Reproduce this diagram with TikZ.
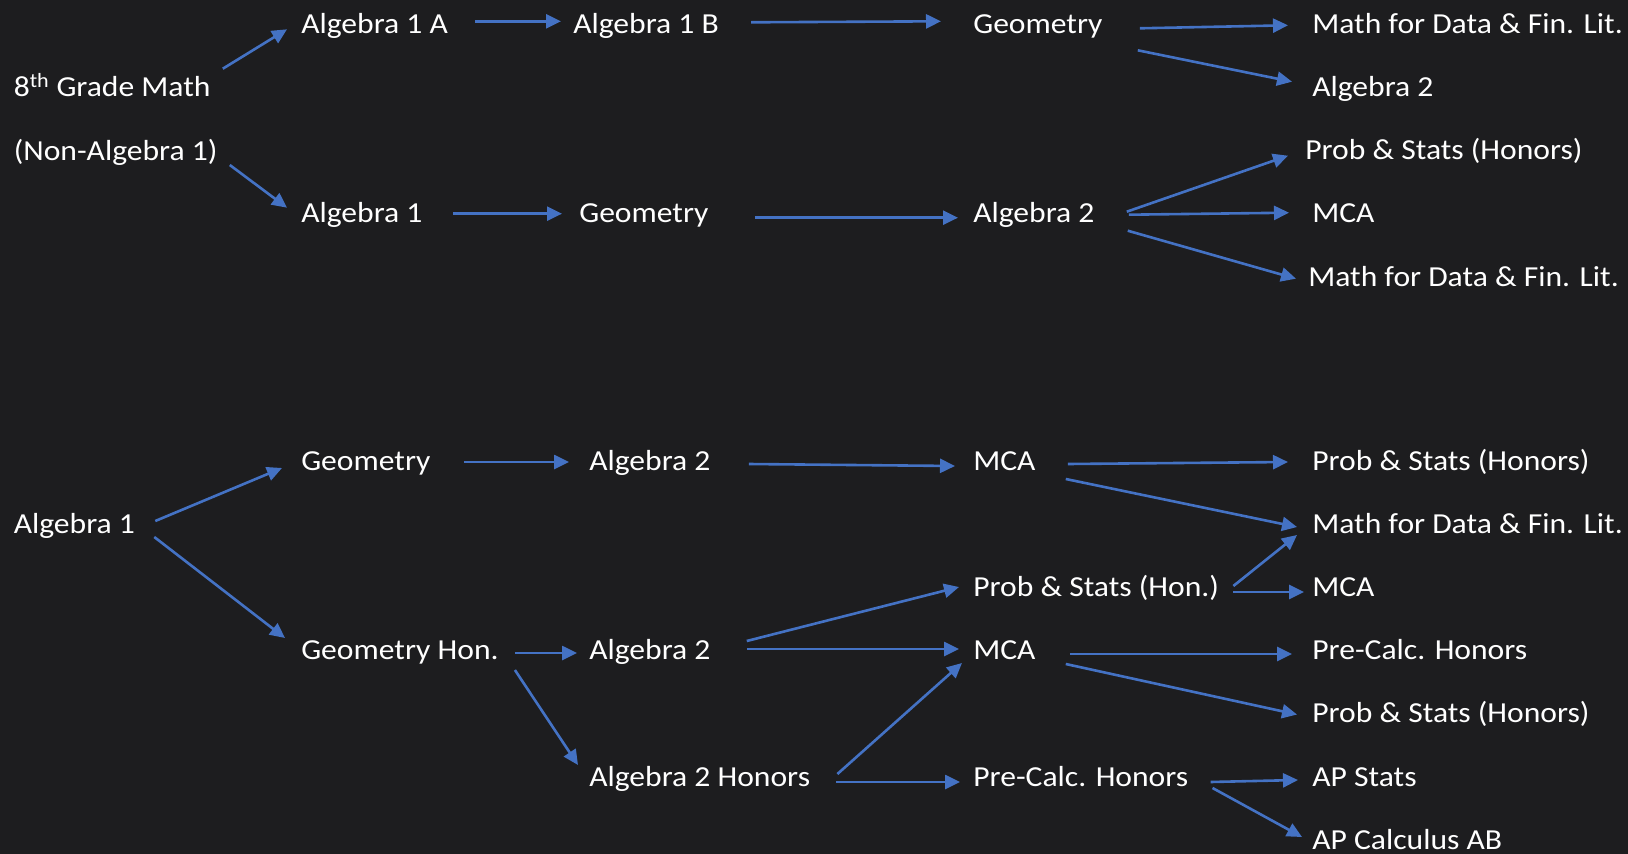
\documentclass[tikz,border=0pt]{standalone}
\usepackage{fontspec}
\setmainfont{Carlito}[FakeStretch=1.09]
\usetikzlibrary{arrows.meta}
\definecolor{board}{HTML}{1D1D1F}
\definecolor{arrowblue}{HTML}{4472C4}

\begin{document}
\begin{tikzpicture}[x=1pt, y=-1pt, ->, >={Triangle[length=15pt,width=14pt]},
                line width=2.6pt, arrowblue,
                course/.style={anchor=base west, inner sep=0pt, text=white,
                  text height=22pt, text depth=6pt,
                  font=\fontsize{29}{34}\selectfont}]

  \fill[board, -] (0,0) rectangle (1628,854);
  \useasboundingbox (0,0) rectangle (1628,854);

  % 8th grade math (non-algebra 1)
  \node[course] (g8)     at (12.5,96.7)  {8\textsuperscript{th} Grade Math};
  \node[course] (nonalg) at (12.5,160)   {(Non-Algebra 1)};
  \node[course] (algA)   at (300,33.3)   {Algebra 1 A};
  \node[course] (algB)   at (572,33.3)   {Algebra 1 B};
  \node[course] (geoT)   at (972,33.3)   {Geometry};
  \node[course] (mdfT)   at (1311,33.3)  {Math for Data \& Fin. Lit.};
  \node[course] (algtwoT) at (1311,96.7) {Algebra 2};
  \node[course] (alg1T)  at (300,222.7)  {Algebra 1};
  \node[course] (geoM)   at (578,222.7)  {Geometry};
  \node[course] (alg2M)  at (972,222.7)  {Algebra 2};
  \node[course] (psM)    at (1304,159.7) {Prob \& Stats (Honors)};
  \node[course] (mcaM)   at (1311,222.7) {MCA};
  \node[course] (mdfM)   at (1307,286.7) {Math for Data \& Fin. Lit.};

  % algebra 1 in 8th grade
  \node[course] (alg1B)  at (12.5,533)   {Algebra 1};
  \node[course] (geoB)   at (300,470)    {Geometry};
  \node[course] (geoH)   at (300,659)    {Geometry Hon.};
  \node[course] (alg2Ba) at (588,470)    {Algebra 2};
  \node[course] (alg2Bb) at (588,659)    {Algebra 2};
  \node[course] (alg2H)  at (588,786)    {Algebra 2 Honors};
  \node[course] (mcaBa)  at (972,470)    {MCA};
  \node[course] (psHon)  at (972,596)    {Prob \& Stats (Hon.)};
  \node[course] (mcaBb)  at (972,659)    {MCA};
  \node[course] (pcB)    at (972,786)    {Pre-Calc. Honors};
  \node[course] (psBa)   at (1311,470)   {Prob \& Stats (Honors)};
  \node[course] (mdfB)   at (1311,533)   {Math for Data \& Fin. Lit.};
  \node[course] (mcaBc)  at (1311,596)   {MCA};
  \node[course] (pcR)    at (1311,659)   {Pre-Calc. Honors};
  \node[course] (psBb)   at (1311,722.5) {Prob \& Stats (Honors)};
  \node[course] (apS)    at (1311,786)   {AP Stats};
  \node[course] (apC)    at (1311,849)   {AP Calculus AB};

  \path
    ([shift={(11,-20)}]g8.east)       edge ([shift={(-13,4)}]algA.west)
    ([shift={(26,-4)}]algA.east)      edge ([shift={(-11,-4)}]algB.west)
    ([shift={(31,-3)}]algB.east)      edge ([shift={(-31,-4)}]geoT.west)
    ([shift={(36,3)}]geoT.east)       edge ([shift={(-23,0)}]mdfT.west)
    ([shift={(34,25)}]geoT.east)      edge ([shift={(-19,-7)}]algtwoT.west)
    ([shift={(11,13)}]nonalg.east)    edge ([shift={(-13,-7)}]alg1T.west)
    ([shift={(29,-1)}]alg1T.east)     edge ([shift={(-16,-1)}]geoM.west)
    ([shift={(45,3)}]geoM.east)       edge ([shift={(-14,3)}]alg2M.west)
    ([shift={(31,-3)}]alg2M.east)     edge ([shift={(-16,4)}]psM.west)
    ([shift={(33,0)}]alg2M.east)      edge ([shift={(-22,-2)}]mcaM.west)
    ([shift={(32,16)}]alg2M.east)     edge ([shift={(-11,0)}]mdfM.west);

  \path
    ([shift={(19,-4)}]alg1B.east)     edge ([shift={(-18,6)}]geoB.west)
    ([shift={(18,12)}]alg1B.east)     edge ([shift={(-15,-13)}]geoH.west)
    ([shift={(32,0)}]geoB.east)       edge ([shift={(-19,0)}]alg2Ba.west)
    ([shift={(37,2)}]alg2Ba.east)     edge ([shift={(-17,4)}]mcaBa.west)
    ([shift={(31,2)}]mcaBa.east)      edge ([shift={(-23,0)}]psBa.west)
    ([shift={(29,17)}]mcaBa.east)     edge ([shift={(-14,2)}]mdfB.west)
    ([shift={(13,-2)}]psHon.east)     edge ([shift={(-14,10)}]mdfB.west)
    ([shift={(13,4)}]psHon.east)      edge ([shift={(-7,4)}]mcaBc.west)
    ([shift={(15,2)}]geoH.east)       edge ([shift={(-11,2)}]alg2Bb.west)
    ([shift={(15,19)}]geoH.east)      edge ([shift={(-10,-13)}]alg2H.west)
    ([shift={(35,-10)}]alg2Bb.east)   edge ([shift={(-13,-1)}]psHon.west)
    ([shift={(35,-2)}]alg2Bb.east)    edge ([shift={(-13,-2)}]mcaBb.west)
    ([shift={(33,3)}]mcaBb.east)      edge ([shift={(-19,3)}]pcR.west)
    ([shift={(29,13)}]mcaBb.east)     edge ([shift={(-14,0)}]psBb.west)
    ([shift={(26,-4)}]alg2H.east)     edge ([shift={(-10,12)}]mcaBb.west)
    ([shift={(25,4)}]alg2H.east)      edge ([shift={(-12,4)}]pcB.west)
    ([shift={(21,4)}]pcB.east)        edge ([shift={(-13,2)}]apS.west)
    ([shift={(23,10)}]pcB.east)       edge ([shift={(-9,-4)}]apC.west);
\end{tikzpicture}
\end{document}
